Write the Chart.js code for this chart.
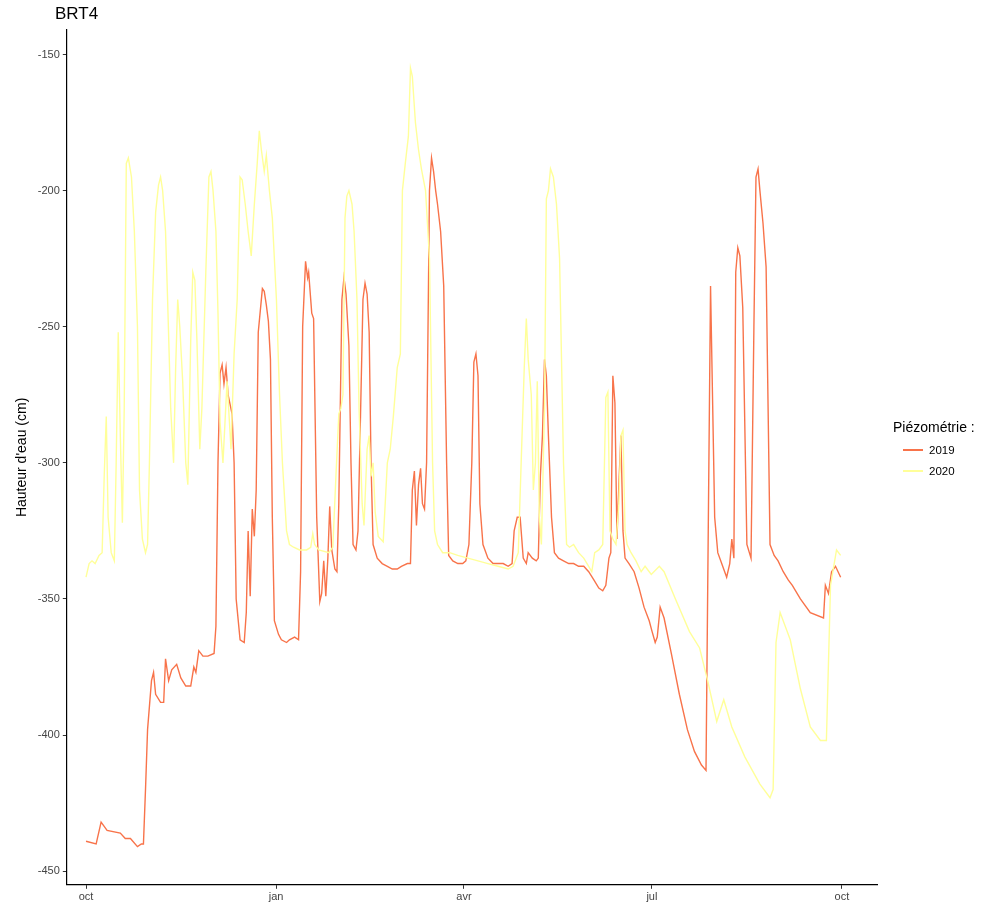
<!DOCTYPE html>
<html>
<head>
<meta charset="utf-8">
<script src="https://cdn.jsdelivr.net/npm/chart.js@4"></script>
<style>
  body { margin: 0; background: #fff; font-family: "Liberation Sans", Arial, sans-serif; }
  #wrap { position: relative; width: 1000px; height: 920px; }
  #title { position: absolute; left: 55px; top: 4px; font-size: 17px; color: #000; }
  #legend { position: absolute; left: 893px; top: 419px; font-size: 14px; color: #000; }
  #legend .item { display: flex; align-items: center; font-size: 11.5px; margin-top: 9px; }
  #legend .sw { width: 20px; height: 1.5px; margin: 0 6px 0 10px; }
</style>
</head>
<body>
<div id="wrap">
  <canvas id="myChart" width="1000" height="920"></canvas>
  <div id="title">BRT4</div>
  <div id="legend">Piézométrie :
    <div class="item"><span class="sw" style="background:#F8734A"></span>2019</div>
    <div class="item"><span class="sw" style="background:#FFFF99"></span>2020</div>
  </div>
</div>
<script>
// x = days since 1 Oct, y = water level (cm)
const monthTicks = [0, 92, 183, 274, 366];
const monthLabels = ["oct", "jan", "avr", "jul", "oct"];
const yTicks = [-150, -200, -250, -300, -350, -400, -450];

const days2019 = [0,4.9,7.3,10.2,16.6,19,21.5,24.9,26.8,27.8,28.8,29.8,31.7,32.7,33.7,36.1,37.6,38.5,40,41.5,43.9,45.9,48.3,50.7,52.2,53.2,54.6,56.6,59,62,62.9,63.9,64.9,65.9,66.8,67.8,68.8,70.7,71.7,72.7,74.6,76.6,77.6,78.5,79.5,80.5,81.5,82.4,83.4,84.4,85.4,86.3,87.3,88.3,89.3,90.2,91.2,93.2,94.6,97.1,98.5,101,102.9,103.9,104.9,106.3,107.3,107.8,109.3,110.2,111.7,113.2,114.1,115.1,116.1,117.1,118,119,120.5,121.5,122.4,123.9,124.9,125.9,127.3,128.3,129.3,130.7,131.7,132.7,134.1,135.1,136.1,137.1,138,139,141,143.4,145.9,148.3,150.7,152.7,155.6,157.1,158,159,160,161,162,162.9,163.9,164.9,166.3,167.3,168.3,169.3,170.2,171.7,173.2,174.6,175.6,177.6,180,182.4,183.9,185.4,186.8,187.8,188.8,189.8,190.7,192.2,194.6,197.1,199.5,202,204.4,206.3,207.3,208.8,210.2,211.7,213.2,214.1,216.1,218,219,220,221,222,222.9,223.9,225.4,226.8,228.8,231.2,233.7,236.1,238.5,241,243.4,245.9,248.3,250.2,251.7,253.2,254.1,255.1,256.1,257.1,258,259,260,261,262.9,265.4,267.8,270.2,272.7,274.1,275.6,276.6,278,279.9,283.4,287.3,291.2,294.6,298,300.2,300.5,302.4,304.4,305.9,307.8,310.2,311.7,312.7,313.7,314.6,315.6,316.6,318,320,322,323.4,324.4,325.4,326.3,327.8,329.3,331.2,333.2,335.1,337.6,340,342,345.9,350.7,357.1,358,359.5,361,362.9,365.4];
const level2019 = [-439,-440,-432,-435,-436,-438,-438,-441,-440,-440,-420,-398,-380,-377,-385,-388,-388,-372,-380,-376,-374,-379,-382,-382,-375,-377,-369,-371,-371,-370,-360,-300,-267,-264,-271,-265,-275,-282,-300,-350,-365,-366,-355,-325,-349,-317,-327,-310,-252,-244,-236,-237,-242,-248,-262,-320,-358,-363,-365,-366,-365,-364,-365,-340,-250,-226,-232,-230,-245,-247,-320,-351,-348,-336,-349,-335,-316,-332,-339,-340,-315,-240,-232,-238,-257,-300,-330,-332,-325,-290,-240,-234,-238,-252,-300,-330,-335,-337,-338,-339,-339,-338,-337,-337,-310,-303,-323,-308,-302,-315,-317,-300,-200,-188,-193,-200,-205,-215,-235,-300,-334,-336,-337,-337,-336,-330,-300,-263,-260,-268,-315,-330,-335,-337,-337,-337,-338,-337,-325,-320,-320,-335,-337,-333,-335,-336,-335,-305,-290,-262,-268,-290,-320,-333,-335,-336,-337,-337,-338,-338,-340,-343,-346,-347,-345,-335,-333,-268,-278,-328,-308,-290,-325,-335,-337,-340,-346,-353,-358,-362,-366,-364,-353,-357,-370,-385,-398,-406,-411,-413,-413,-235,-320,-333,-337,-342,-337,-328,-335,-230,-221,-224,-243,-330,-335,-250,-195,-192,-200,-212,-228,-330,-334,-336,-340,-343,-345,-350,-355,-357,-345,-348,-340,-338,-342];

const days2020 = [0,1.5,2.9,4.4,6.3,7.8,8.8,9.8,10.7,12.2,13.7,14.6,15.6,16.6,17.6,18.5,19.5,20.5,22,23.4,24.9,25.9,27.3,28.8,29.8,30.7,32.2,33.7,35.1,36.1,37.1,38.5,39.5,41,42.4,43.4,44.4,45.4,46.8,48.3,49.3,50.7,51.7,52.7,53.7,55.1,56.1,58,59.5,60.5,61.5,62.9,63.9,64.9,66.3,67.3,68.3,70.2,71.7,73.2,74.6,75.6,77.1,78.5,80,81.5,82.9,83.9,84.9,86.3,87.3,88.8,90.2,92.2,93.7,95.1,97.1,98.5,100.5,103.4,106.8,108.8,109.8,110.7,112.7,117.6,119.5,121,122.4,123.4,124.4,125.4,126.3,127.3,128.8,129.8,131.2,132.2,133.7,134.6,136.1,137.1,138,139,140,141.5,143.9,145.9,147.3,148.8,150.7,152.2,153.2,154.6,156.1,157.1,158,159.5,161,162.4,164.4,166.3,167.8,168.8,170.2,172.7,176.1,180,184.9,189.8,194.6,199.5,204.4,206.8,209.3,210.7,212.2,213.2,214.1,215.6,216.6,217.6,218.5,219.5,220.5,222,222.9,223.9,224.9,226.3,227.8,229.3,231.2,232.7,234.1,236.1,238.5,241,243.4,244.9,246.3,248.3,250.2,251.7,252.7,253.7,255.1,256.6,258,259,260,261,262,263.9,266.3,268.8,270.7,273.7,277.6,279.9,285.4,292.2,297.1,301,305.4,308.8,312.7,319,326.3,331.2,332.7,334.1,336.1,341,345.9,350.7,355.6,358.5,360.5,363.4,365.4];
const level2020 = [-342,-337,-336,-337,-334,-333,-305,-283,-320,-333,-336,-300,-252,-290,-322,-280,-190,-188,-195,-215,-250,-310,-328,-333,-330,-300,-240,-208,-198,-195,-200,-215,-240,-280,-300,-265,-240,-250,-270,-300,-308,-255,-230,-233,-255,-295,-280,-230,-195,-193,-200,-215,-245,-285,-300,-285,-270,-295,-260,-240,-195,-196,-205,-215,-224,-205,-190,-178,-185,-193,-187,-200,-210,-240,-275,-300,-325,-330,-331,-332,-332,-331,-326,-330,-332,-333,-331,-305,-282,-280,-275,-210,-202,-200,-205,-215,-240,-280,-315,-323,-295,-290,-305,-300,-318,-327,-329,-300,-295,-283,-265,-260,-200,-190,-180,-155,-158,-175,-185,-192,-200,-225,-300,-325,-330,-333,-333,-334,-335,-336,-337,-338,-339,-338,-333,-300,-265,-247,-262,-275,-310,-300,-270,-320,-330,-280,-203,-200,-192,-195,-205,-225,-300,-330,-331,-330,-333,-335,-338,-340,-333,-332,-330,-276,-274,-325,-328,-330,-315,-290,-288,-325,-330,-333,-336,-340,-338,-341,-338,-340,-350,-362,-368,-380,-395,-387,-397,-408,-418,-423,-420,-366,-355,-365,-383,-397,-402,-402,-345,-332,-334];

function pts(xs, ys) { return xs.map((x, i) => ({ x: x, y: ys[i] })); }

const axisColor = "#000";
new Chart(document.getElementById("myChart"), {
  type: "line",
  data: {
    datasets: [
      { label: "2020", data: pts(days2020, level2020), borderColor: "#FFFF99", borderWidth: 1.4, pointRadius: 0, tension: 0 },
      { label: "2019", data: pts(days2019, level2019), borderColor: "#F8734A", borderWidth: 1.4, pointRadius: 0, tension: 0 }
    ]
  },
  options: {
    responsive: false,
    animation: false,
    layout: { padding: { top: 30, right: 123, bottom: 14, left: 10 } },
    plugins: { legend: { display: false }, tooltip: { enabled: false } },
    scales: {
      x: {
        type: "linear", min: -9.3, max: 383,
        afterBuildTicks: s => { s.ticks = monthTicks.map(v => ({ value: v })); },
        ticks: { callback: v => monthLabels[monthTicks.indexOf(v)], color: "#444", font: { size: 11 }, maxRotation: 0, padding: 2 },
        grid: { drawOnChartArea: false, tickLength: 4, color: "#333" },
        border: { color: axisColor, width: 1.2 }
      },
      y: {
        min: -455, max: -141,
        afterBuildTicks: s => { s.ticks = yTicks.map(v => ({ value: v })); },
        ticks: { color: "#444", font: { size: 11 }, padding: 3 },
        grid: { drawOnChartArea: false, tickLength: 4, color: "#333" },
        border: { color: axisColor, width: 1.2 },
        title: { display: true, text: "Hauteur d'eau (cm)", color: "#000", font: { size: 14 }, padding: 4 }
      }
    }
  }
});
</script>
</body>
</html>
